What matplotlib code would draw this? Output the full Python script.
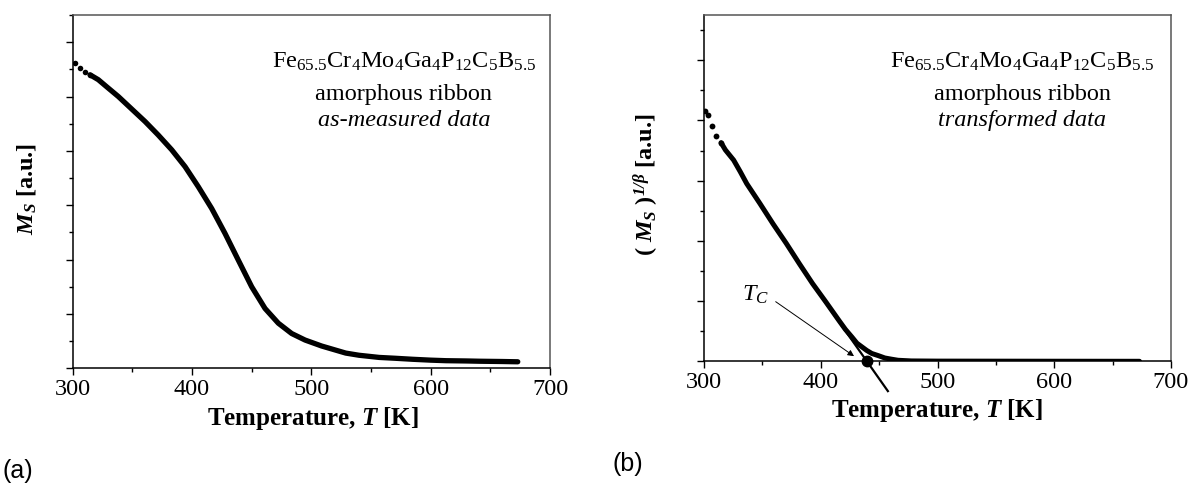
import matplotlib
matplotlib.use("Agg")
import matplotlib.pyplot as plt
from matplotlib.ticker import MultipleLocator, NullFormatter

plt.rcParams['font.family'] = ['Liberation Serif', 'DejaVu Serif']
plt.rcParams['mathtext.fontset'] = 'custom'
plt.rcParams['mathtext.rm'] = 'Liberation Serif'
plt.rcParams['mathtext.it'] = 'Liberation Serif:italic'
plt.rcParams['mathtext.bf'] = 'Liberation Serif:bold'
plt.rcParams['mathtext.bfit'] = 'Liberation Serif:bold:italic'

# ---- data (a): as-measured Ms (arb. units) ----
T_a = [302.1, 306.3, 310.5, 314.7, 321.6, 328.6, 338.4, 349.6, 360.8, 371.9,
       383.1, 394.3, 405.4, 416.6, 427.8, 438.9, 450.1, 461.3, 472.4, 483.6,
       494.8, 508.7, 528.9, 540.0, 556.9, 570.0, 584.9, 600.0, 612.9, 630.0,
       640.9, 660.0, 673.0]
M_a = [5.61, 5.52, 5.46, 5.40, 5.31, 5.18, 5.00, 4.77, 4.54, 4.29,
       4.02, 3.71, 3.34, 2.94, 2.48, 1.99, 1.50, 1.10, 0.83, 0.64,
       0.52, 0.41, 0.28, 0.24, 0.20, 0.185, 0.166, 0.15, 0.14, 0.135,
       0.13, 0.125, 0.12]

# ---- data (b): transformed (Ms)^(1/beta) ----
T_b = [300.6, 303.4, 307.0, 310.7, 314.6, 318.3, 325.4, 331.0, 336.6, 347.9,
       359.2, 370.4, 381.7, 393.0, 404.2, 415.5, 421.1, 426.8, 431.0, 435.2,
       439.4, 443.7, 449.3, 454.9, 460.6, 466.2, 477.5, 500.0, 550.0, 600.0,
       673.0]
M_b = [4.16, 4.09, 3.90, 3.74, 3.63, 3.51, 3.34, 3.15, 2.95, 2.62,
       2.28, 1.96, 1.62, 1.29, 0.99, 0.68, 0.53, 0.40, 0.30, 0.24,
       0.18, 0.13, 0.094, 0.055, 0.035, 0.017, 0.006, 0.003, 0.002, 0.001,
       0.0]

# linear fit giving Tc
TC = 439.5
FIT_SLOPE = -0.0275
FIT_T = [398.0, 457.5]

SPARSE_A = 3   # first points drawn as separate dots
SPARSE_B = 4

fig = plt.figure(figsize=(11.99, 4.91), dpi=100)
W, H = 1199, 491

def make_axes(x0, x1, ytop, ybot):
    return fig.add_axes([x0 / W, 1 - ybot / H, (x1 - x0) / W, (ybot - ytop) / H])

axA = make_axes(72.5, 550, 15, 368.3)
axB = make_axes(704, 1171, 15, 361.3)

def style(ax, ytop):
    ax.set_xlim(300, 700)
    ax.set_ylim(0, ytop)
    ax.xaxis.set_major_locator(MultipleLocator(100))
    ax.xaxis.set_minor_locator(MultipleLocator(50))
    ax.yaxis.set_major_locator(MultipleLocator(1))
    ax.yaxis.set_minor_locator(MultipleLocator(0.5))
    ax.yaxis.set_major_formatter(NullFormatter())
    ax.tick_params(which='major', direction='out', length=5, width=1.0, labelsize=17.5, pad=3)
    ax.tick_params(which='minor', direction='out', length=3, width=1.0)
    ax.tick_params(top=False, right=False)
    for s in ('left', 'bottom'):
        ax.spines[s].set_linewidth(1.1)
        ax.spines[s].set_color('black')
    for s in ('top', 'right'):
        ax.spines[s].set_linewidth(1.1)
        ax.spines[s].set_color('#555555')

style(axA, 6.5)
style(axB, 5.75)

# panel (a)
axA.plot(T_a[:SPARSE_A + 1], M_a[:SPARSE_A + 1], 'o', color='black', ms=4.0, mew=0, zorder=3)
axA.plot(T_a[SPARSE_A:], M_a[SPARSE_A:], '-', color='black', lw=3.8,
         solid_capstyle='round', solid_joinstyle='round', zorder=3)

# panel (b)
axB.plot(T_b[:SPARSE_B + 1], M_b[:SPARSE_B + 1], 'o', color='black', ms=4.2, mew=0, zorder=3)
axB.plot(T_b[SPARSE_B:], M_b[SPARSE_B:], '-', color='black', lw=3.6,
         solid_capstyle='round', solid_joinstyle='round', zorder=3)
fit_y = [FIT_SLOPE * (t - TC) for t in FIT_T]
axB.plot(FIT_T, fit_y, '-', color='black', lw=1.6, clip_on=False, zorder=4)
axB.plot([TC], [0], 'o', color='black', ms=7.5, clip_on=False, zorder=5)
axB.annotate('', xy=(428.5, 0.085), xytext=(361.4, 0.99),
             arrowprops=dict(arrowstyle='-|>', lw=0.7, color='black', mutation_scale=9,
                             shrinkA=0, shrinkB=0))
axB.text(344, 1.1, r'$T_{C}$', fontsize=17.5, ha='center', va='center')

formula = r'Fe$_{65.5}$Cr$_{4}$Mo$_{4}$Ga$_{4}$P$_{12}$C$_{5}$B$_{5.5}$'
for ax, cx, ys, third in ((axA, 0.694, (0.850, 0.759, 0.686), 'as-measured data'),
                          (axB, 0.681, (0.847, 0.755, 0.679), 'transformed data')):
    ax.text(cx, ys[0], formula, transform=ax.transAxes, ha='center', va='baseline', fontsize=17.5)
    ax.text(cx, ys[1], 'amorphous ribbon', transform=ax.transAxes, ha='center', va='baseline', fontsize=17.5)
    ax.text(cx, ys[2], third, transform=ax.transAxes, ha='center', va='baseline', fontsize=17.5,
            style='italic')

# axis labels
fig.text(313 / W, 1 - 418 / H, r'Temperature, $\mathbfit{T}$ [K]', ha='center', va='center',
         fontsize=18, fontweight='bold')
fig.text(937 / W, 1 - 410 / H, r'Temperature, $\mathbfit{T}$ [K]', ha='center', va='center',
         fontsize=18, fontweight='bold')
fig.text(27 / W, 1 - 189 / H, r'$\mathbfit{M}_{\mathbfit{S}}$ [a.u.]', ha='center', va='center',
         rotation=90, fontsize=17.5, fontweight='bold')
fig.text(646 / W, 1 - 185 / H, r'( $\mathbfit{M}_{\mathbfit{S}}$ )$^{\mathbfit{1/\beta}}$ [a.u.]',
         ha='center', va='center', rotation=90, fontsize=17.5, fontweight='bold')

# panel letters
fig.text(2 / W, 1 - 471 / H, '(a)', fontfamily='Liberation Sans', fontsize=18, ha='left', va='center')
fig.text(612 / W, 1 - 464 / H, '(b)', fontfamily='Liberation Sans', fontsize=18, ha='left', va='center')

fig.savefig('out.png', dpi=100)
